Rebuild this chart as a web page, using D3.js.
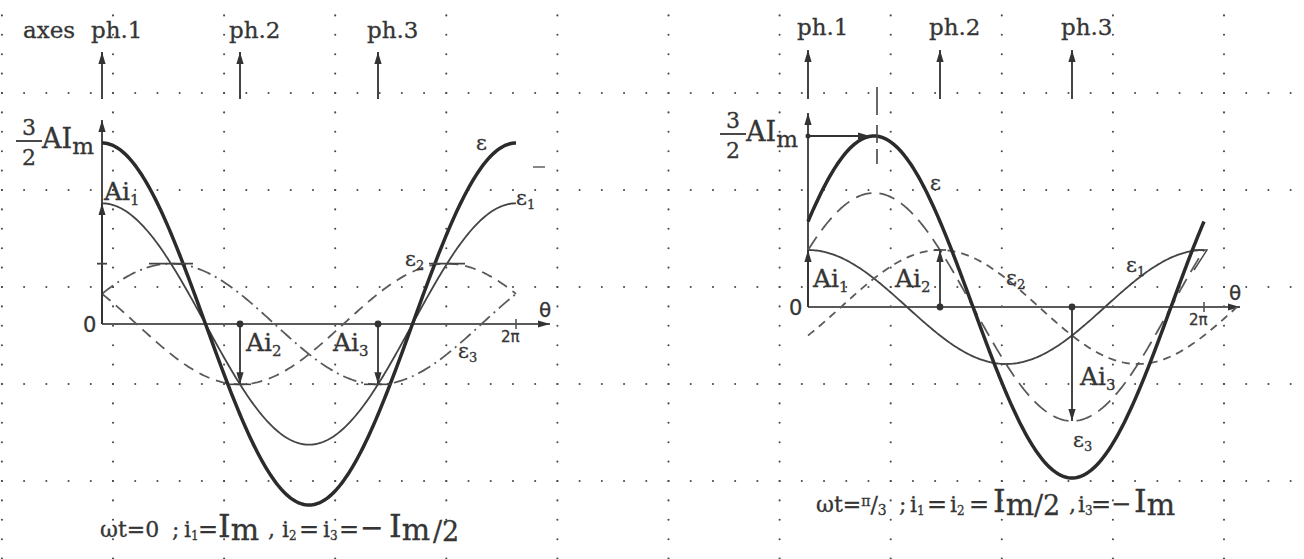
<!DOCTYPE html>
<html><head><meta charset="utf-8">
<script src="https://cdn.jsdelivr.net/npm/d3@7"></script>
<style>
html,body{margin:0;padding:0;background:#fff;}
svg{display:block;}
text{font-family:"DejaVu Serif","Liberation Serif",serif;fill:#353535;stroke:#353535;stroke-width:0.3;}
.sans{font-family:"DejaVu Sans","Liberation Sans",sans-serif;}
</style></head><body>
<svg id="fig" width="1304" height="559"></svg>
<script>
// Winding axes: names and electrical position (multiples of π)
const phaseNames = ["ph.1", "ph.2", "ph.3"];
const phaseShifts = [0, 2 / 3, 4 / 3];
// Instantaneous phase currents as fractions of Im
const currentsAt0 = [1, -0.5, -0.5];     // ωt = 0
const currentsAtPi3 = [0.5, 0.5, -1];    // ωt = π/3
// Marked levels on the ordinate (multiples of A·Im)
const peakLevel = 1.5;
const halfLevel = 0.5;
// θ range of the abscissa (multiples of π)
const thetaEnd = 2;

const svg = d3.select("#fig");
const PI = Math.PI;

// arrowheads
const defs = svg.append("defs");
defs.append("marker").attr("id", "ah").attr("viewBox", "0 -5 12 10")
  .attr("refX", 12).attr("refY", 0).attr("markerWidth", 12).attr("markerHeight", 10)
  .attr("markerUnits", "userSpaceOnUse").attr("orient", "auto")
  .append("path").attr("d", "M0,-3.6L12,0L0,3.6Z").attr("fill", "#333");

// dotted graph-paper background
const grid = svg.append("g").attr("fill", "#4a4a4a");
const gx0 = 113, gdx = 111.1, gy0 = 93, gdy = 97;
for (let i = -1; i <= 11; i++) {
  const cx = gx0 + i * gdx;
  for (let j = -30; j <= 30; j++) {
    const cy = gy0 + j * gdy / 5;
    if (cy < 0 || cy > 559 || cx < 0 || cx > 1304) continue;
    grid.append("circle").attr("cx", cx).attr("cy", cy).attr("r", 1.05);
  }
}
for (let j = -1; j <= 5; j++) {
  const cy = gy0 + j * gdy;
  for (let k = -6; k <= 60; k++) {
    const cx = gx0 + k * gdx / 5;
    if (cy < 0 || cy > 559 || cx < 0 || cx > 1304) continue;
    grid.append("circle").attr("cx", cx).attr("cy", cy).attr("r", 1.05);
  }
}

// rich text helper: parts = [text, fontSize, baselineOffset, absoluteX]
function rich(g, x, y, parts) {
  const t = g.append("text").attr("x", x).attr("y", y);
  let cur = 0;
  parts.forEach(([s, fs, off, ax]) => {
    const sp = t.append("tspan").attr("font-size", fs).attr("dy", (off || 0) - cur).text(s);
    if (ax != null) sp.attr("x", ax);
    cur = off || 0;
  });
  return t;
}

function panel(cfg) {
  const x = d3.scaleLinear().domain([0, thetaEnd * PI]).range([cfg.x0, cfg.x1]);
  const y = d3.scaleLinear().domain([0, peakLevel]).range([cfg.y0, cfg.yTop]);
  const g = svg.append("g");
  const cur = cfg.currents;

  const comp = k => th => cur[k] * Math.cos(th - phaseShifts[k] * PI);
  const total = th => d3.sum(cur, (c, k) => comp(k)(th));

  const curve = (f, a, b) => {
    const pts = d3.range(0, 241).map(i => a + (b - a) * i / 240);
    return d3.line().x(t => x(t)).y(t => y(f(t)))(pts);
  };

  // phase-axis arrows and names
  phaseShifts.forEach((s, k) => {
    g.append("line").attr("x1", x(s * PI)).attr("x2", x(s * PI))
      .attr("y1", cfg.phBottom).attr("y2", cfg.phTip)
      .attr("stroke", "#444").attr("stroke-width", 2).attr("marker-end", "url(#ah)");
    g.append("text").attr("x", x(s * PI) - 11).attr("y", cfg.phLabelY)
      .attr("font-size", 23).text(phaseNames[k]);
  });

  // axes
  g.append("line").attr("x1", x(0)).attr("x2", cfg.thetaTip).attr("y1", y(0)).attr("y2", y(0))
    .attr("stroke", "#5a5a5a").attr("stroke-width", 2.2).attr("marker-end", "url(#ah)");
  g.append("line").attr("x1", x(0)).attr("x2", x(0)).attr("y1", y(0)).attr("y2", cfg.yTip)
    .attr("stroke", "#4a4a4a").attr("stroke-width", 2).attr("marker-end", "url(#ah)");
  g.append("line").attr("x1", x(thetaEnd * PI)).attr("x2", x(thetaEnd * PI))
    .attr("y1", y(0) - 5).attr("y2", y(0) + 5).attr("stroke", "#555").attr("stroke-width", 1.6);

  // component fields
  cfg.styles.forEach((st, k) => {
    g.append("path").attr("d", curve(comp(k), 0, st.end * PI))
      .attr("fill", "none").attr("stroke", st.color).attr("stroke-width", st.w)
      .attr("stroke-dasharray", st.dash || null);
  });
  // resultant field
  g.append("path").attr("d", curve(total, 0, thetaEnd * PI))
    .attr("fill", "none").attr("stroke", "#2b2b2b").attr("stroke-width", 3.5);

  // current arrows A·i_k on each phase axis
  cur.forEach((c, k) => {
    const xx = x(phaseShifts[k] * PI);
    g.append("line").attr("x1", xx).attr("x2", xx).attr("y1", y(0)).attr("y2", y(c))
      .attr("stroke", "#333").attr("stroke-width", 1.8).attr("marker-end", "url(#ah)");
    if (k > 0) g.append("circle").attr("cx", xx).attr("cy", y(0)).attr("r", 3.4).attr("fill", "#333");
  });

  // short tangents at extrema
  cfg.tangents.forEach(([k, th, half]) => {
    const xx = x(th * PI), yy = y(comp(k)(th * PI));
    g.append("line").attr("x1", xx - half).attr("x2", xx + half).attr("y1", yy).attr("y2", yy)
      .attr("stroke", "#444").attr("stroke-width", 1.6);
  });

  // labels
  g.append("text").attr("class", "sans").attr("x", x(0) - 19).attr("y", y(0) + 8)
    .attr("font-size", 21).text("0");
  g.append("text").attr("class", "sans").attr("x", cfg.thetaTip - 11).attr("y", y(0) - 7)
    .attr("font-size", 20).text("θ");
  g.append("text").attr("class", "sans").attr("x", x(thetaEnd * PI) - 15).attr("y", y(0) + 18)
    .attr("font-size", 15).text("2π");

  // 3/2 A Im label
  const lx = cfg.fracX;
  g.append("text").attr("x", lx + 13).attr("y", y(peakLevel) - 8).attr("font-size", 22)
    .attr("text-anchor", "middle").text("3");
  g.append("line").attr("x1", lx).attr("x2", lx + 26).attr("y1", y(peakLevel) - 2).attr("y2", y(peakLevel) - 2)
    .attr("stroke", "#353535").attr("stroke-width", 1.8);
  g.append("text").attr("x", lx + 13).attr("y", y(peakLevel) + 22).attr("font-size", 22)
    .attr("text-anchor", "middle").text("2");
  rich(g, lx + 26, y(peakLevel) + 5, [["AI", 27, 0], ["m", 23, 6]]);

  cfg.labels.forEach(([parts, lxp, lyp]) => rich(g, lxp, lyp, parts));
  rich(g, cfg.capX, cfg.capY, cfg.caption);
  return { g, x, y, comp, total };
}

const eps = (n) => n ? [["ε", 21, 0], [n, 13, 4]] : [["ε", 21, 0]];
const Ai = (n) => [["Ai", 25, 0], [n, 15, 5]];

// ωt = 0
const L = panel({
  x0: 102, x1: 516, y0: 324, yTop: 143, yTip: 120, thetaTip: 550,
  phTip: 52, phBottom: 99, phLabelY: 38, fracX: 16,
  currents: currentsAt0,
  styles: [
    { color: "#444", w: 1.8, end: 2 },
    { color: "#5a5a5a", w: 1.8, end: 2, dash: "11,7" },
    { color: "#5a5a5a", w: 1.8, end: 2, dash: "14,5,2,5" }
  ],
  tangents: [[2, 1 / 3, 22], [1, 2 / 3, 11], [1, 5 / 3, 18], [2, 4 / 3, 14]],
  labels: [
    [eps(""), 476, 150], [eps("1"), 516, 205], [eps("2"), 405, 266], [eps("3"), 458, 358],
    [Ai("1"), 104, 200], [Ai("2"), 246, 351], [Ai("3"), 333, 351]
  ],
  capX: 100, capY: 537,
  caption: [["ωt=0", 22, 0], [";", 22, 0, 172], ["i", 22, 0, 184], ["1", 12, 3], ["=", 24, 0, 198],
            ["I", 32, 0, 218], ["m", 30, 3], [",", 22, 0, 268], ["i", 22, 0, 282], ["2", 12, 3],
            ["=", 24, 0, 299], ["i", 22, 0, 323], ["3", 12, 3], ["=", 24, 0, 339],
            ["−", 28, 0, 360], ["I", 32, 0, 389], ["m", 30, 3], ["/2", 27, 4, 433]]
});
svg.append("text").attr("x", 23).attr("y", 38).attr("font-size", 23).text("axes");
L.g.append("line").attr("x1", L.x(0) - 5).attr("x2", L.x(0) + 5)
  .attr("y1", L.y(halfLevel)).attr("y2", L.y(halfLevel)).attr("stroke", "#444").attr("stroke-width", 1.8);
L.g.append("line").attr("x1", 533).attr("x2", 545).attr("y1", 167).attr("y2", 167)
  .attr("stroke", "#555").attr("stroke-width", 1.4);

// ωt = π/3
const R = panel({
  x0: 808, x1: 1204, y0: 307, yTop: 136, yTip: 113, thetaTip: 1240,
  phTip: 50, phBottom: 99, phLabelY: 35, fracX: 720,
  currents: currentsAtPi3,
  styles: [
    { color: "#444", w: 1.8, end: 2 },
    { color: "#5a5a5a", w: 1.8, end: 2 + 1 / 6, dash: "8,6" },
    { color: "#5a5a5a", w: 1.8, end: 2, dash: "16,8" }
  ],
  tangents: [[1, 2 / 3, 6]],
  labels: [
    [eps(""), 930, 190], [eps("1"), 1126, 272], [eps("2"), 1006, 285], [eps("3"), 1073, 447],
    [Ai("1"), 813, 287], [Ai("2"), 895, 287], [Ai("3"), 1080, 385]
  ],
  capX: 816, capY: 512,
  caption: [["ωt=", 22, 0], ["π", 14, -6], ["/", 22, 0], ["3", 14, 3], [";", 22, 0, 899],
            ["i", 22, 0, 910], ["1", 12, 3], ["=", 24, 0, 927], ["i", 22, 0, 950], ["2", 12, 3],
            ["=", 24, 0, 969], ["I", 32, 0, 993], ["m", 30, 3], ["/2", 27, 3, 1034],
            [",", 22, 0, 1069], ["i", 22, 0, 1078], ["3", 12, 3], ["=", 24, 0, 1091],
            ["−", 24, 0, 1111], ["I", 32, 0, 1134], ["m", 30, 3]]
});
// peak of the resultant: horizontal arrow and dashed marker at θ = π/3
R.g.append("circle").attr("cx", R.x(0)).attr("cy", R.y(peakLevel)).attr("r", 2.5).attr("fill", "#333");
R.g.append("line").attr("x1", R.x(0)).attr("x2", R.x(PI / 3) - 4)
  .attr("y1", R.y(peakLevel)).attr("y2", R.y(peakLevel))
  .attr("stroke", "#333").attr("stroke-width", 1.8).attr("marker-end", "url(#ah)");
R.g.append("line").attr("x1", R.x(PI / 3) + 3).attr("x2", R.x(PI / 3) + 3)
  .attr("y1", 87).attr("y2", 164).attr("stroke", "#444").attr("stroke-width", 1.6)
  .attr("stroke-dasharray", "28,10,18,6");
// small mark at the end of ε1
R.g.append("path").attr("d", `M${R.x(2 * PI) - 10},${R.y(0.5)}L${R.x(2 * PI) + 3},${R.y(0.5)}L${R.x(2 * PI) - 10},${R.y(0.5) + 20}`)
  .attr("fill", "none").attr("stroke", "#444").attr("stroke-width", 1.4);
</script>
</body></html>
